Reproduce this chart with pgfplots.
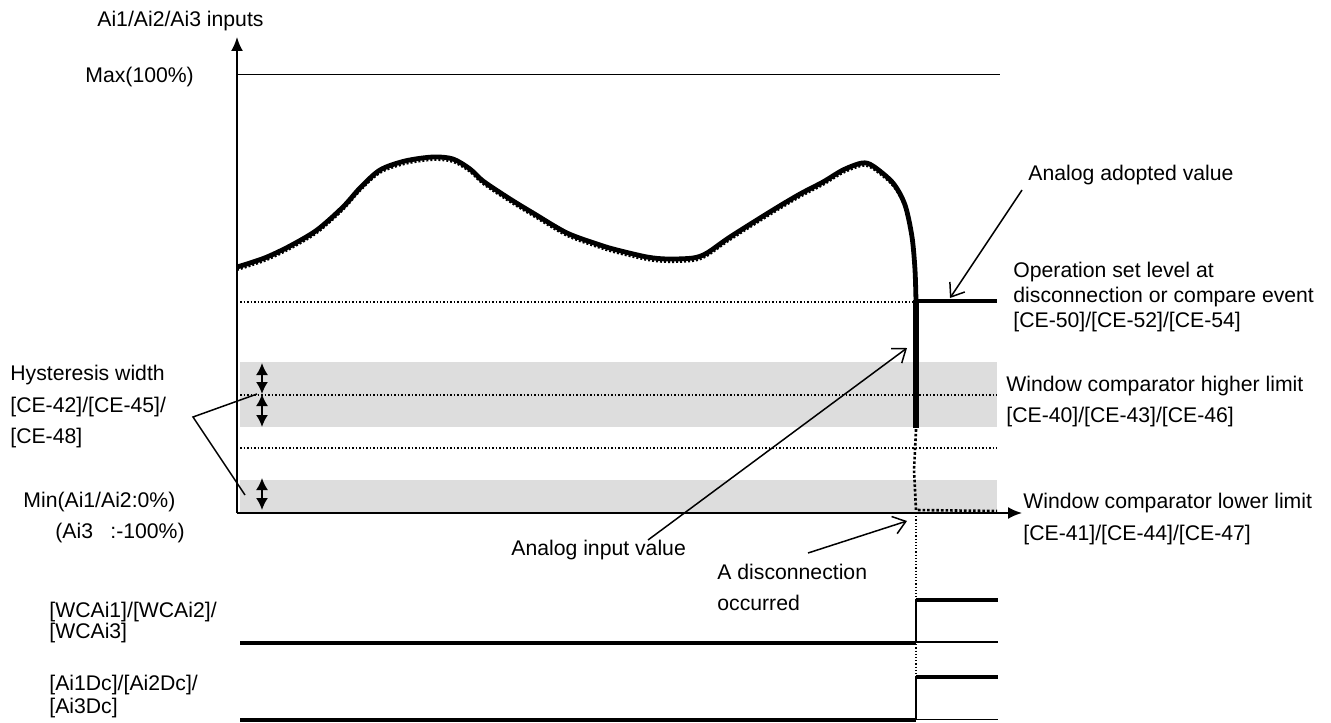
\documentclass[border=0pt]{standalone}
\usepackage{pgfplots}
\pgfplotsset{compat=1.18}
\usepackage{fontspec}
\setmainfont{Liberation Sans}
\usetikzlibrary{arrows.meta}
\definecolor{band}{RGB}{221,221,221}
\pgfplotstableread{
x y
237 267
250 263
267 257
290 246
317 230
343 207
360 188
380 170
405 161
433 157
453 159
470 169
483 181
510 199
533 213
567 233
600 245
617 250
647 257
667 259
693 258
707 253
730 237
773 210
800 194
823 182
843 170
862 163
873 166
893 183
905 205
912 237
915 270
916 302
}\curve
\pgfplotstableread{
x y
237 270
250 266
267 260
290 249
317 233
343 210
360 191
380 173
405 164
433 160
453 162
470 172
483 184
510 202
533 216
567 236
600 248
617 253
647 260
667 262
693 261
707 256
730 240
773 213
800 197
823 185
843 173
862 166
873 169
893 186
905 208
912 240
915 273
916 305
}\dotcurve
\tikzset{lbl/.style={font=\fontsize{10.6}{12}\selectfont, inner sep=0pt, anchor=west}}
\begin{document}
\begin{tikzpicture}
\begin{axis}[
  width=665.5pt, height=361pt, scale only axis,
  xmin=0, xmax=1331, ymin=0, ymax=722, y dir=reverse,
  hide axis, clip=false,
]
\addplot[draw=none] coordinates {(0,0) (1331,722)};
% grey bands
\addplot[fill=band, draw=none] coordinates {(240,362) (997,362) (997,427) (240,427)};
\addplot[fill=band, draw=none] coordinates {(240,480) (997,480) (997,512) (240,512)};
% dotted levels
\addplot[densely dotted, line width=0.75pt] coordinates {(240,302) (916,302)};
\addplot[densely dotted, line width=0.75pt] coordinates {(240,395) (997,395)};
\addplot[densely dotted, line width=0.75pt] coordinates {(240,448) (997,448)};
% max line
\addplot[line width=0.7pt] coordinates {(237,74.5) (1000,74.5)};
% hysteresis arrows
\addplot[line width=0.9pt, {Latex[length=6pt,width=6pt]}-{Latex[length=6pt,width=6pt]}] coordinates {(262,363) (262,394)};
\addplot[line width=0.9pt, {Latex[length=6pt,width=6pt]}-{Latex[length=6pt,width=6pt]}] coordinates {(262,394) (262,427)};
\addplot[line width=0.9pt, {Latex[length=6pt,width=6pt]}-{Latex[length=6pt,width=6pt]}] coordinates {(262,478) (262,510)};
% hysteresis pointer
\addplot[line width=0.75pt] coordinates {(257,394) (193,417) (245,495)};
% analog input value (dotted)
\addplot[densely dotted, line width=1pt, smooth] table {\dotcurve};
\addplot[densely dotted, line width=1.3pt] coordinates {(916,305) (916,430) (914,470) (916,510) (997,511)};
% adopted (thick)
\addplot[line width=2.4pt, smooth] table {\curve};
\addplot[line width=2.6pt] coordinates {(916,300) (916,428)};
\addplot[line width=2.2pt] coordinates {(916,301) (997,301)};
% axes
\addplot[line width=1pt, -{Latex[length=7pt,width=6pt]}] coordinates {(237,513) (237,37)};
\addplot[line width=1pt, -{Latex[length=7pt,width=6pt]}] coordinates {(236.5,513) (1022,513)};
% event line
\addplot[densely dotted, line width=0.6pt] coordinates {(916,513) (916,677)};
% annotation arrows
\addplot[line width=0.75pt, -{Straight Barb[length=6pt,width=9pt]}] coordinates {(1022,190) (950,298)};
\addplot[line width=0.75pt, -{Straight Barb[length=6pt,width=9pt]}] coordinates {(648,540) (907,348)};
\addplot[line width=0.75pt, -{Straight Barb[length=6pt,width=9pt]}] coordinates {(808,553) (907,521)};
% WCAi signal
\addplot[line width=2pt] coordinates {(240,643) (916,643)};
\addplot[line width=1pt] coordinates {(916,643) (916,600)};
\addplot[line width=2pt] coordinates {(915.5,600) (998,600)};
\addplot[line width=0.8pt] coordinates {(916,642) (998,642)};
% Ai Dc signal
\addplot[line width=2pt] coordinates {(240,720) (916,720)};
\addplot[line width=1pt] coordinates {(916,720) (916,677)};
\addplot[line width=2pt] coordinates {(915.5,677) (998,677)};
\addplot[line width=0.8pt] coordinates {(916,719.5) (998,719.5)};
% texts
\node[lbl] at (axis cs:97,21) {Ai1/Ai2/Ai3 inputs};
\node[lbl] at (axis cs:85,77) {Max(100\%)};
\node[lbl] at (axis cs:10,375) {Hysteresis width};
\node[lbl] at (axis cs:10,407) {[CE-42]/[CE-45]/};
\node[lbl] at (axis cs:10,438) {[CE-48]};
\node[lbl] at (axis cs:23,502) {Min(Ai1/Ai2:0\%)};
\node[lbl] at (axis cs:55,533) {(Ai3};
\node[lbl] at (axis cs:110,533) {:-100\%)};
\node[lbl] at (axis cs:49,612) {[WCAi1]/[WCAi2]/};
\node[lbl] at (axis cs:49,633) {[WCAi3]};
\node[lbl] at (axis cs:49,685) {[Ai1Dc]/[Ai2Dc]/};
\node[lbl] at (axis cs:49,708) {[Ai3Dc]};
\node[lbl] at (axis cs:511,550) {Analog input value};
\node[lbl] at (axis cs:717,572) {A disconnection};
\node[lbl] at (axis cs:717,603) {occurred};
\node[lbl] at (axis cs:1028,175) {Analog adopted value};
\node[lbl] at (axis cs:1013,272) {Operation set level at};
\node[lbl] at (axis cs:1013,297) {disconnection or compare event};
\node[lbl] at (axis cs:1013,322) {[CE-50]/[CE-52]/[CE-54]};
\node[lbl] at (axis cs:1006,386) {Window comparator higher limit};
\node[lbl] at (axis cs:1006,417) {[CE-40]/[CE-43]/[CE-46]};
\node[lbl] at (axis cs:1023,503) {Window comparator lower limit};
\node[lbl] at (axis cs:1023,535) {[CE-41]/[CE-44]/[CE-47]};
\end{axis}
\end{tikzpicture}
\end{document}
